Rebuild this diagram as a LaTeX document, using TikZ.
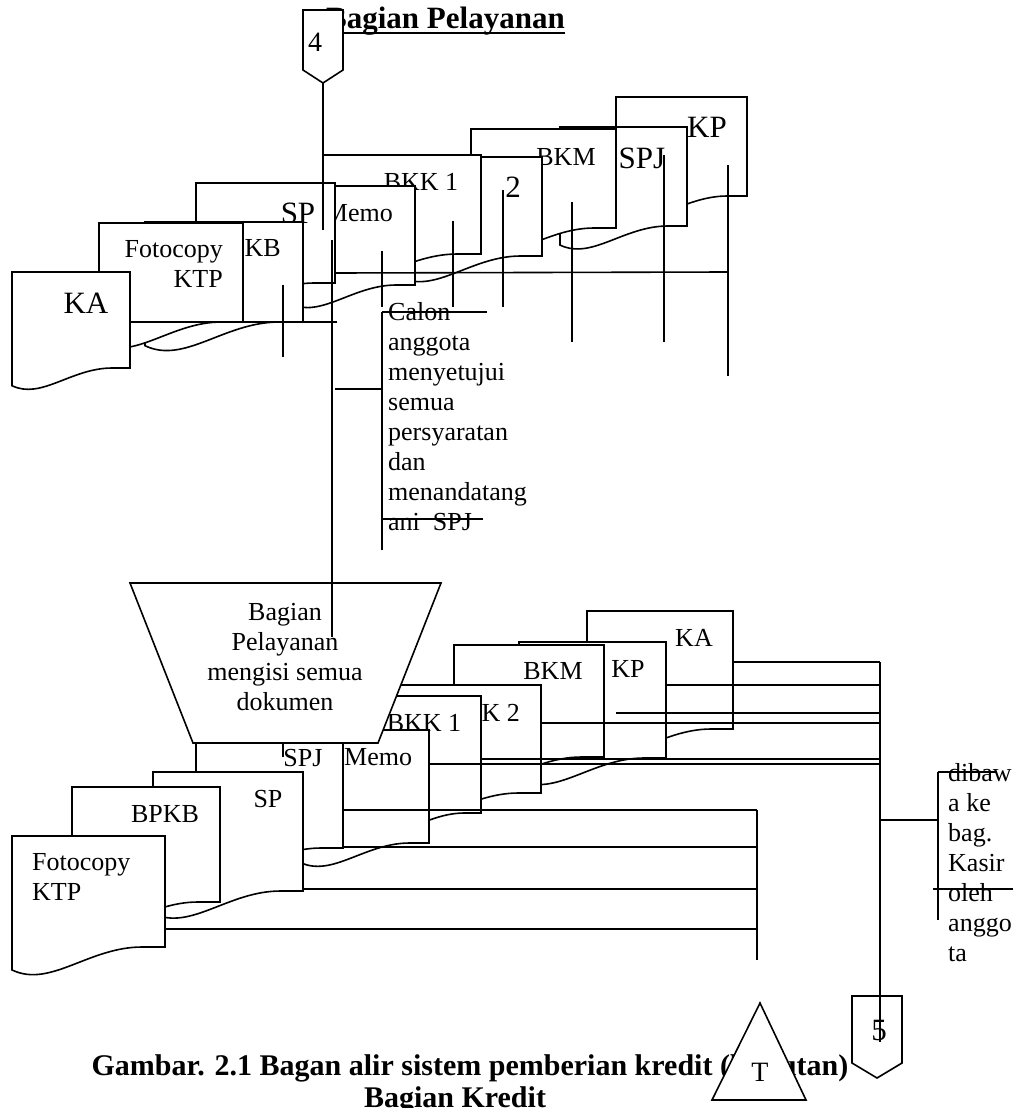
\documentclass[tikz,border=0pt]{standalone}
\usepackage{fontspec}
\setmainfont{Liberation Serif}
\newcommand{\docshape}[4]{%
  \pgfmathsetmacro{\mydw}{#3-#1}%
  \pgfmathsetmacro{\mydd}{0.15*\mydw}%
  \filldraw[docline] (#1,#2) -- (#3,#2) -- (#3,#4) -- ({#3-0.15*\mydw},#4)
    .. controls ({#1+0.5*\mydw},#4) and ({#1+0.25*\mydw},{#4+\mydd+0.12*\mydw}) .. (#1,{#4+\mydd}) -- cycle;}
\begin{document}
\begin{tikzpicture}[x=1pt,y=-1pt,
  docline/.style={draw=black,fill=white,line width=1.6pt},
  flow/.style={draw=black,line width=1.6pt},
  lbl/.style={inner sep=0pt,font=\fontsize{26}{30}\selectfont},
  big/.style={inner sep=0pt,font=\fontsize{31}{36}\selectfont},
  ttl/.style={inner sep=0pt,font=\fontsize{31}{36}\selectfont\bfseries},
  captxt/.style={inner sep=0pt,font=\fontsize{30}{34}\selectfont\bfseries}]
\useasboundingbox[fill=white] (0,0) rectangle (1024,1108);

% title
\node[ttl,anchor=base west] (title) at (326,29) {Bagian Pelayanan};
\draw[line width=2.2pt] ([yshift=-4pt]title.base west) -- ([yshift=-4pt]title.base east);

% off-page connector 4
\filldraw[docline] (303,10) -- (343,10) -- (343,70) -- (323,83) -- (303,70) -- cycle;
\node[inner sep=0pt,font=\fontsize{28}{32}\selectfont] (c4) at (315,42) {4};
\coordinate (c4b) at (323,83);

% ---------- top documents (back to front)
\docshape{616}{97}{747}{196}   \node[big] (tKP) at (707,127) {KP};
\docshape{560}{127}{687}{226}  \node[big] (tSPJ) at (642,158) {SPJ};
\docshape{471}{129}{616}{228}  \node[lbl] (tBKM) at (566,157) {BKM};
\docshape{400}{157}{542}{256}  \node[big,anchor=east] (tBKK2) at (521,187) {BKK\ \ \ 2};
\docshape{323}{155}{481}{254}  \node[lbl] (tBKK1) at (421,182) {BKK 1};
\docshape{290}{186}{415}{285}  \node[lbl,anchor=east] (tMemo) at (393,213) {Memo};
\docshape{196}{183}{335}{283}  \node[big] (tSP) at (298,213) {SP};
\docshape{145}{222}{303}{322}  \node[lbl,anchor=east] (tBPKB) at (281,248) {BPKB};
\docshape{99}{223}{243}{322}   \node[lbl,anchor=north east,align=right] (tKTP) at (223,240) {Fotocopy\\KTP};
\docshape{12}{272}{130}{368}   \node[big] (tKA) at (86,303) {KA};

% top flow lines
\draw[flow] (c4b) -- (323,230);
\draw[flow] (283,285) -- (283,357);
\draw[flow] (130,322) -- (337,322);
\draw[flow] (336,273) -- (728,272);
\draw[flow] (382,251) -- (382,307);
\draw[flow] (453,221) -- (453,307);
\draw[flow] (503,190) -- (503,307);
\draw[flow] (572,202) -- (572,342);
\draw[flow] (664,155) -- (664,342);
\draw[flow] (728,165) -- (728,376);

% annotation Calon anggota
\node[lbl,anchor=north west,align=left] (calon) at (388,302)
  {Calon\\anggota\\menyetujui\\semua\\persyaratan\\dan\\menandatang\\ani\ \ SPJ};
\draw[flow] (382,312) -- (382,550);
\draw[flow] (382,312) -- (487,312);
\draw[flow] (382,519) -- (483,519);
\draw[flow] (335,389) -- (382,389);

% ---------- bottom documents (back to front)
\docshape{587}{611}{733}{729}  \node[lbl] (bKA) at (694,638) {KA};
\docshape{519}{642}{666}{758}  \node[lbl] (bKP) at (628,669) {KP};
\docshape{454}{645}{604}{757}  \node[lbl] (bBKM) at (553,671) {BKM};
\docshape{390}{685}{541}{793}  \node[lbl,anchor=east] (bBKK2) at (520,713) {BKK 2};
\docshape{370}{696}{481}{813}  \node[lbl] (bBKK1) at (424,723) {BKK 1};
\docshape{300}{730}{429}{843}  \node[lbl,anchor=west] (bMemo) at (344,757) {Memo};
\docshape{196}{740}{343}{848}  \node[lbl] (bSPJ) at (303,758) {SPJ};
\docshape{153}{772}{303}{891}  \node[lbl] (bSP) at (268,799) {SP};
\docshape{72}{787}{220}{902}   \node[lbl] (bBPKB) at (165,814) {BPKB};
\docshape{12}{836}{165}{947}   \node[lbl,anchor=north west,align=left] (bKTP) at (32,853) {Fotocopy\\KTP};
\draw[flow] (283,744) -- (283,757);

% manual operation
\filldraw[docline] (130,583) -- (441,583) -- (378,743) -- (193,743) -- cycle;
\node[lbl,align=center] (proc) at (285,657) {Bagian\\Pelayanan\\mengisi semua\\dokumen};
\draw[flow] (332,240) -- (332,637);

% bottom flow lines
\draw[flow] (733,662) -- (880,662);
\draw[flow] (666,685) -- (880,685);
\draw[flow] (616,713) -- (880,713);
\draw[flow] (542,723) -- (880,723);
\draw[flow] (482,759) -- (880,759);
\draw[flow] (430,764) -- (880,764);
\draw[flow] (343,810) -- (757,810);
\draw[flow] (343,847) -- (757,847);
\draw[flow] (303,889) -- (757,889);
\draw[flow] (166,929) -- (757,929);
\draw[flow] (757,810) -- (757,960);

% annotation dibawa ke bag. Kasir
\node[lbl,anchor=north west,align=left] (kasir) at (948,763) {dibaw\\a ke\\bag.\\Kasir\\oleh\\anggo\\ta};
\draw[flow] (880,820) -- (938,820);
\draw[flow] (938,772) -- (938,920);
\draw[flow] (938,772) -- (997,772);
\draw[flow] (933,889) -- (1013,889);

% off-page connector 5
\filldraw[docline] (852,996) -- (902,996) -- (902,1063) -- (877,1078) -- (852,1063) -- cycle;
\node[inner sep=0pt,font=\fontsize{31}{36}\selectfont] (c5) at (879,1030) {5};
\draw[flow] (880,662) -- (880,1042);

% caption
\node[captxt,anchor=base] (caption) at (470,1075) {Gambar. 2.1 Bagan alir sistem pemberian kredit (lanjutan)};
\node[captxt,anchor=base] (caption2) at (455,1107) {Bagian Kredit};

% terminator T
\filldraw[docline] (760,1003) -- (806,1100) -- (712,1100) -- cycle;
\node[inner sep=0pt,font=\fontsize{28}{32}\selectfont] (tT) at (760,1072) {T};
\end{tikzpicture}
\end{document}
